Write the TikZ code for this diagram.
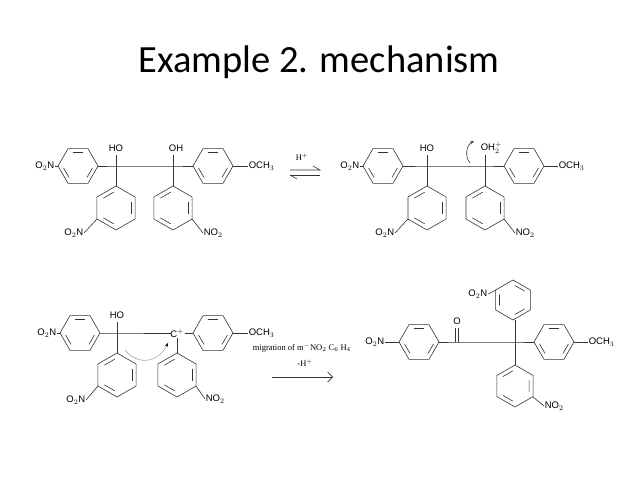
\documentclass[tikz,border=0pt]{standalone}
\usepackage{fontspec}
\setmainfont{Liberation Sans}
\newfontfamily\titlefont{Carlito}
\newfontfamily\serifont{Liberation Serif}
\usetikzlibrary{calc,arrows.meta}
\newcommand\hexr[4]{% x y rot radius
\begin{scope}[shift={(#1,#2)},rotate=#3]
\draw (0:#4)--(60:#4)--(120:#4)--(180:#4)--(240:#4)--(300:#4)--cycle;
\foreach \a in {0,120,240}{\draw ($(\a:#4*0.78)!0.15!(\a+60:#4*0.78)$)--($(\a:#4*0.78)!0.85!(\a+60:#4*0.78)$);}
\end{scope}}
\tikzset{lab/.style={font=\fontsize{9.5}{10}\selectfont,inner sep=0.5pt},
 ser/.style={font=\serifont\fontsize{8.5}{9}\selectfont,inner sep=0.5pt}}
\begin{document}
\begin{tikzpicture}[x=1pt,y=-1pt,line width=0.6pt,draw=black!80]
\useasboundingbox (0,0) rectangle (638,478);
\node[font=\titlefont\fontsize{38.5}{44}\selectfont] (title) at (319,62) {Example 2. mechanism};
% ---------- molecule 1
\node[lab,anchor=east] (m1a) at (55,166) {O$_2$N};
\draw (m1a.east)--(58,166); \hexr{78}{166}{0}{20}
\draw (98,166)--(116,166)--(173,166)--(193,166);
\draw (116,166)--(116,155); \node[lab] (m1ho) at (116,148) {HO};
\draw (173,166)--(173,155); \node[lab] (m1oh) at (176,148) {OH};
\hexr{213}{166}{0}{20}
\node[lab,anchor=west] (m1me) at (248,166) {OCH$_3$}; \draw (233,166)--(m1me.west);
\draw (116,166)--(116,186); \hexr{116}{208}{30}{22}
\node[lab,anchor=east] (m1b) at (84,233) {O$_2$N}; \draw (97,219)--(m1b.east);
\draw (173,166)--(173,186); \hexr{173}{208}{30}{22}
\node[lab,anchor=west] (m1c) at (203,233) {NO$_2$}; \draw (192,219)--(m1c.west);
% equilibrium
\node[ser] (hp1) at (302,157) {H$^+$};
\coordinate (e1) at (290,170); \coordinate (e2) at (320,170);
\draw (e1)--(e2)--++(-7,-4);
\draw ($(e1)+(0,5)$)--($(e2)+(0,5)$); \draw ($(e1)+(0,5)$)--++(7,4);
% ---------- molecule 2
\node[lab,anchor=east] (m2a) at (360,166) {O$_2$N};
\draw (m2a.east)--(363,166); \hexr{383}{166}{0}{20}
\draw (403,166)--(427,166)--(485,166)--(504,166);
\draw (427,166)--(427,155); \node[lab] (m2ho) at (427,148) {HO};
\draw (485,166)--(485,155); \node[lab,anchor=west] (m2oh) at (480,148) {OH$_2^{+}$};
\draw[-{Stealth[length=4pt]}] (470,163) to[bend left=50] (474,141);
\hexr{524}{166}{0}{20}
\node[lab,anchor=west] (m2me) at (558,166) {OCH$_3$}; \draw (544,166)--(m2me.west);
\draw (427,166)--(427,186); \hexr{427}{208}{30}{22}
\node[lab,anchor=east] (m2b) at (395,233) {O$_2$N}; \draw (408,219)--(m2b.east);
\draw (485,166)--(485,186); \hexr{485}{208}{30}{22}
\node[lab,anchor=west] (m2c) at (515,233) {NO$_2$}; \draw (504,219)--(m2c.west);
% ---------- molecule 3
\node[lab,anchor=east] (m3a) at (57,333) {O$_2$N};
\draw (m3a.east)--(60,333); \hexr{80}{333}{0}{20}
\draw (100,333)--(117,333)--(171,333);
\node[lab] (m3c) at (177,333) {C$^+$};
\draw (m3c.east)--(193,333);
\draw (117,333)--(117,322); \node[lab] (m3ho) at (117,315) {HO};
\hexr{213}{333}{0}{20}
\node[lab,anchor=west] (m3me) at (248,333) {OCH$_3$}; \draw (233,333)--(m3me.west);
\draw (117,333)--(117,353); \hexr{117}{375}{30}{22}
\node[lab,anchor=east] (m3b) at (86,400) {O$_2$N}; \draw (98,386)--(m3b.east);
\draw (m3c.south)--(177,353); \hexr{177}{375}{30}{22}
\node[lab,anchor=west] (m3d) at (205,399) {NO$_2$}; \draw (196,386)--(m3d.west);
\draw[gray!70,-{Stealth[length=4pt,black]}] (125,350) .. controls (140,368) and (160,360) .. (168,343);
% arrow 2
\node[ser,anchor=west] (mig) at (252,348) {migration of m$^{-}$NO$_2$ C$_6$ H$_4$};
\node[ser] (hm) at (305,363) {-H$^+$};
\coordinate (a1) at (272,377); \coordinate (a2) at (333,377);
\draw[-{Straight Barb[length=5pt]}] (a1)--(a2);
% ---------- molecule 4
\node[lab,anchor=east] (m4a) at (385,342) {O$_2$N};
\draw (m4a.east)--(399,342); \hexr{419}{342}{0}{20}
\draw (439,342)--(457,342)--(515,342)--(534,342);
\draw (455.5,342)--(455.5,328); \draw (458.5,342)--(458.5,328);
\node[lab] (m4o) at (457,321) {O};
\hexr{554}{342}{0}{20}
\node[lab,anchor=west] (m4me) at (588,342) {OCH$_3$}; \draw (574,342)--(m4me.west);
\draw (515,342)--(515,320); \hexr{513}{300}{-30}{20}
\node[lab,anchor=east] (m4b) at (488,294) {O$_2$N}; \draw (496,290)--(m4b.east);
\draw (515,342)--(515,365); \hexr{515}{386}{30}{21}
\node[lab,anchor=west] (m4c) at (544,406) {NO$_2$}; \draw (533,397)--(m4c.west);
\end{tikzpicture}
\end{document}
